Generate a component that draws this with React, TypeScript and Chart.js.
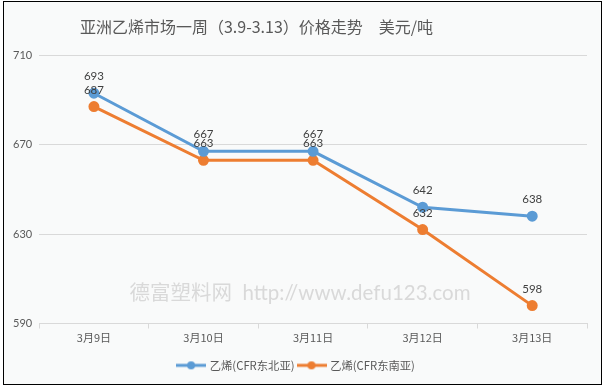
import React, { useEffect, useRef } from "react";
import { Chart, registerables } from "chart.js";

Chart.register(...registerables);

const categories = ["3月9日", "3月10日", "3月11日", "3月12日", "3月13日"];
const northeastAsia = [693, 667, 667, 642, 638];
const southeastAsia = [687, 663, 663, 632, 598];
const yTicks = [590, 630, 670, 710];
const seriesNames = ["乙烯(CFR东北亚)", "乙烯(CFR东南亚)"];
const seriesColors = ["#5B9BD5", "#ED7D31"];
const titleText = "亚洲乙烯市场一周（3.9-3.13）价格走势　美元/吨　　　　　";
const watermarkText = "德富塑料网  http://www.defu123.com";

const LATIN = "Lato, 'Noto Sans CJK SC', sans-serif";
const CJK = "'Noto Sans CJK SC', sans-serif";

function legendIcon(color: string): HTMLCanvasElement {
  const c = document.createElement("canvas");
  c.width = 30;
  c.height = 10;
  const ctx = c.getContext("2d")!;
  ctx.strokeStyle = color;
  ctx.lineWidth = 3;
  ctx.beginPath();
  ctx.moveTo(0, 5);
  ctx.lineTo(30, 5);
  ctx.stroke();
  ctx.fillStyle = color;
  ctx.beginPath();
  ctx.arc(15, 5, 4, 0, Math.PI * 2);
  ctx.fill();
  return c;
}

const dataLabelPlugin = {
  id: "dataLabels",
  afterDatasetsDraw(chart: any) {
    const ctx = chart.ctx;
    ctx.save();
    ctx.font = "11.5px " + LATIN;
    ctx.fillStyle = "#404040";
    ctx.textAlign = "center";
    ctx.textBaseline = "bottom";
    chart.data.datasets.forEach((ds: any, i: number) => {
      const meta = chart.getDatasetMeta(i);
      meta.data.forEach((pt: any, j: number) => {
        ctx.fillText(String(ds.data[j]), pt.x, pt.y - 11);
      });
    });
    ctx.restore();
  },
};

const watermarkPlugin = {
  id: "watermark",
  beforeDatasetsDraw(chart: any) {
    const ctx = chart.ctx;
    ctx.save();
    ctx.font = "20.5px " + LATIN;
    ctx.fillStyle = "#D9D9D9";
    ctx.textAlign = "center";
    ctx.textBaseline = "middle";
    ctx.fillText(watermarkText, chart.width / 2 - 2, chart.scales.y.getPixelForValue(603.5));
    ctx.restore();
  },
};

export default function App() {
  const ref = useRef<HTMLCanvasElement>(null);
  useEffect(() => {
    document.body.style.margin = "0";
    const icons = seriesColors.map(legendIcon);
    const chart = new Chart(ref.current!, {
      type: "line",
      data: {
        labels: categories,
        datasets: [northeastAsia, southeastAsia].map((d, i) => ({
          label: seriesNames[i],
          data: d,
          borderColor: seriesColors[i],
          backgroundColor: seriesColors[i],
          borderWidth: 3,
          pointRadius: 4,
          pointBackgroundColor: seriesColors[i],
          pointBorderColor: seriesColors[i],
          tension: 0,
          fill: false,
        })),
      },
      options: {
        animation: false,
        responsive: false,
        layout: { padding: { left: 6, right: 17, top: 11, bottom: 8 } },
        plugins: {
          title: {
            display: true,
            text: titleText,
            color: "#595959",
            font: { family: CJK, size: 16, weight: "normal" },
            padding: { top: 6, bottom: 19 },
          },
          legend: {
            position: "bottom",
            labels: {
              usePointStyle: true,
              pointStyleWidth: 26,
              color: "#595959",
              font: { family: CJK, size: 11.3 },
              padding: 4,
              generateLabels: (chart: any) =>
                chart.data.datasets.map((ds: any, i: number) => ({
                  text: ds.label,
                  fillStyle: seriesColors[i],
                  strokeStyle: seriesColors[i],
                  pointStyle: icons[i],
                  lineWidth: 0,
                  fontColor: "#595959",
                  datasetIndex: i,
                  hidden: false,
                })),
            },
          },
          tooltip: { enabled: false },
        },
        scales: {
          x: {
            offset: true,
            afterFit: (axis: any) => {
              axis.height += 8;
            },
            grid: {
              offset: true,
              drawOnChartArea: false,
              drawTicks: true,
              tickLength: 5,
              color: "#D9D9D9",
            },
            border: { color: "#D9D9D9" },
            ticks: {
              color: "#595959",
              font: { family: CJK, size: 11 },
              padding: 3,
            },
          },
          y: {
            min: yTicks[0],
            max: yTicks[yTicks.length - 1],
            afterBuildTicks: (axis: any) => {
              axis.ticks = yTicks.map((v) => ({ value: v }));
            },
            grid: { color: "#D9D9D9", drawTicks: false },
            border: { display: false },
            ticks: {
              color: "#595959",
              font: { family: LATIN, size: 11 },
              padding: 7,
            },
          },
        },
      },
      plugins: [watermarkPlugin, dataLabelPlugin],
    });
    return () => chart.destroy();
  }, []);

  return (
    <div style={{ position: "relative", width: 604, height: 389, background: "#FFFFFF" }}>
      <div
        style={{
          position: "absolute",
          left: 3,
          top: 1,
          width: 599,
          height: 384,
          boxSizing: "border-box",
          border: "1px solid #000",
          background: "#F9FAFA",
        }}
      />
      <canvas ref={ref} width={604} height={389} style={{ position: "absolute", left: 0, top: 0 }} />
    </div>
  );
}
